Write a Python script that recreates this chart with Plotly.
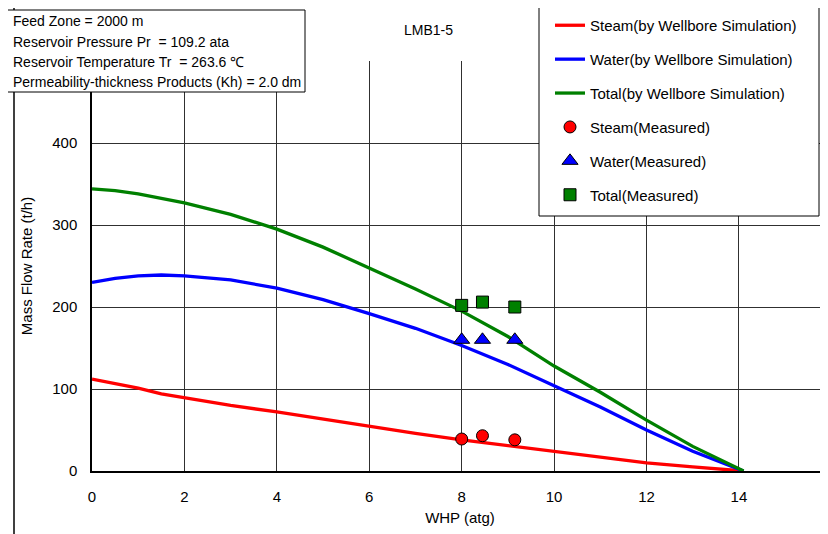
import plotly.graph_objects as go

# Simulation curves (WHP in atg, mass flow in t/h)
whp_sim = [0, 0.5, 1, 1.5, 2, 3, 4, 5, 6, 7, 8, 9, 10, 11, 12, 13, 14.1]
steam_sim = [112, 107, 101, 94, 89, 80, 72, 63, 54, 46, 38, 31, 23, 16, 10, 5, 0]
water_sim = [230, 235, 238, 239, 238, 233, 223, 209, 192, 174, 153, 130, 104, 78, 50, 24, 0]
total_sim = [344, 342, 338, 333, 327, 313, 295, 273, 248, 222, 195, 164, 128, 96, 62, 30, 0]

# Measured points
whp_meas = [8.0, 8.45, 9.15]
steam_meas = [39, 43, 38]
water_meas = [160, 160, 160]
total_meas = [202, 206, 200]

x_ticks = [0, 2, 4, 6, 8, 10, 12, 14, 16]
x_ticktext = ["0", "2", "4", "6", "8", "10", "12", "14", ""]
y_ticks = [0, 100, 200, 300, 400, 500]
y_ticktext = ["0", "100", "200", "300", "400", ""]

info_lines = [
    "Feed Zone = 2000 m",
    "Reservoir Pressure Pr  = 109.2 ata",
    "Reservoir Temperature Tr  = 263.6 \u2103",
    "Permeability-thickness Products (Kh) = 2.0 dm",
]

FONT = "Arial, Liberation Sans, sans-serif"

# Page offset of the plot div (body margin)
OFF = 8
W, H = 828 - OFF, 534 - OFF
# plot area in page pixels
PL, PT, PB = 92, 61, 471
L = PL - OFF
T = PT - OFF
B = H - (PB - OFF)
R = 0
pw = W - L - R
ph = H - T - B
PX_PER_X = 46.21
x_max = pw / PX_PER_X


def px(x):  # page pixel -> paper x
    return (x - PL) / pw


def py(y):  # page pixel -> paper y
    return (PB - y) / ph


fig = go.Figure()
lw = 3.3
fig.add_trace(go.Scatter(x=whp_sim, y=steam_sim, mode="lines", name="Steam(by Wellbore Simulation)",
                         line=dict(color="#ff0000", width=lw), legendgroup="a"))
fig.add_trace(go.Scatter(x=whp_sim, y=water_sim, mode="lines", name="Water(by Wellbore Simulation)",
                         line=dict(color="#0000ff", width=lw), legendgroup="b"))
fig.add_trace(go.Scatter(x=whp_sim, y=total_sim, mode="lines", name="Total(by Wellbore Simulation)",
                         line=dict(color="#008000", width=lw), legendgroup="c"))
fig.add_trace(go.Scatter(x=whp_meas, y=steam_meas, mode="markers", name="Steam(Measured)",
                         marker=dict(symbol="circle", size=12, color="#ff0000",
                                     line=dict(color="black", width=1)), legendgroup="d"))
fig.add_trace(go.Scatter(x=whp_meas, y=water_meas, mode="markers", name="Water(Measured)",
                         marker=dict(symbol="triangle-up", size=14, color="#0000ff",
                                     line=dict(color="black", width=1)), legendgroup="e"))
fig.add_trace(go.Scatter(x=whp_meas, y=total_meas, mode="markers", name="Total(Measured)",
                         marker=dict(symbol="square", size=12, color="#008000",
                                     line=dict(color="black", width=1)), legendgroup="f"))

shapes = []
# outer chart border (left and top)
shapes.append(dict(type="line", xref="paper", yref="paper", x0=px(14), x1=px(14), y0=py(7), y1=py(560),
                   line=dict(color="black", width=1.5), layer="above"))
shapes.append(dict(type="line", xref="paper", yref="paper", x0=px(14), x1=px(850), y0=py(7), y1=py(7),
                   line=dict(color="black", width=1.5), layer="above"))
# info box
shapes.append(dict(type="rect", xref="paper", yref="paper", x0=px(5), x1=px(305), y0=py(10), y1=py(92),
                   line=dict(color="black", width=1), fillcolor="white", layer="above"))
# legend box
shapes.append(dict(type="rect", xref="paper", yref="paper", x0=px(539), x1=px(819), y0=py(7), y1=py(216),
                   line=dict(color="black", width=1), fillcolor="white", layer="above"))

annotations = []
line_y = [21, 42, 62, 82]
for txt, yy in zip(info_lines, line_y):
    annotations.append(dict(text=txt, xref="paper", yref="paper", x=px(11), y=py(yy),
                            xanchor="left", yanchor="middle", showarrow=False,
                            font=dict(family=FONT, size=14, color="black")))
annotations.append(dict(text="LMB1-5", xref="paper", yref="paper", x=px(428), y=py(30),
                        xanchor="center", yanchor="middle", showarrow=False,
                        font=dict(family=FONT, size=14, color="black")))
# "16" tick label, partly cut at the right edge as in the original
annotations.append(dict(text="16", xref="paper", yref="paper", x=px(818), y=py(497),
                        xanchor="left", yanchor="middle", showarrow=False,
                        font=dict(family=FONT, size=15, color="black")))

fig.update_layout(
    width=W, height=H,
    margin=dict(l=L, r=R, t=T, b=B),
    paper_bgcolor="white", plot_bgcolor="white",
    font=dict(family=FONT, size=15, color="black"),
    showlegend=True,
    legend=dict(x=px(550), y=py(9), xanchor="left", yanchor="top",
                bgcolor="rgba(0,0,0,0)", borderwidth=0,
                font=dict(family=FONT, size=15, color="black"),
                traceorder="grouped", tracegroupgap=11.4, itemwidth=30),
    shapes=shapes,
    annotations=annotations,
    xaxis=dict(range=[0, x_max], tickvals=x_ticks, ticktext=x_ticktext, showgrid=True,
               gridcolor="#303030", gridwidth=1, zeroline=False,
               showline=True, linecolor="black", linewidth=1.5,
               ticks="", ticklabelstandoff=11,
               title=dict(text="WHP (atg)", font=dict(size=15), standoff=9)),
    yaxis=dict(range=[0, 500], tickvals=y_ticks, ticktext=y_ticktext, showgrid=True,
               gridcolor="#303030", gridwidth=1, zeroline=False,
               showline=True, linecolor="black", linewidth=1.5,
               ticks="", ticklabelstandoff=10,
               title=dict(text="Mass Flow Rate (t/h)", font=dict(size=15), standoff=16)),
)

fig.write_html("out.html")
